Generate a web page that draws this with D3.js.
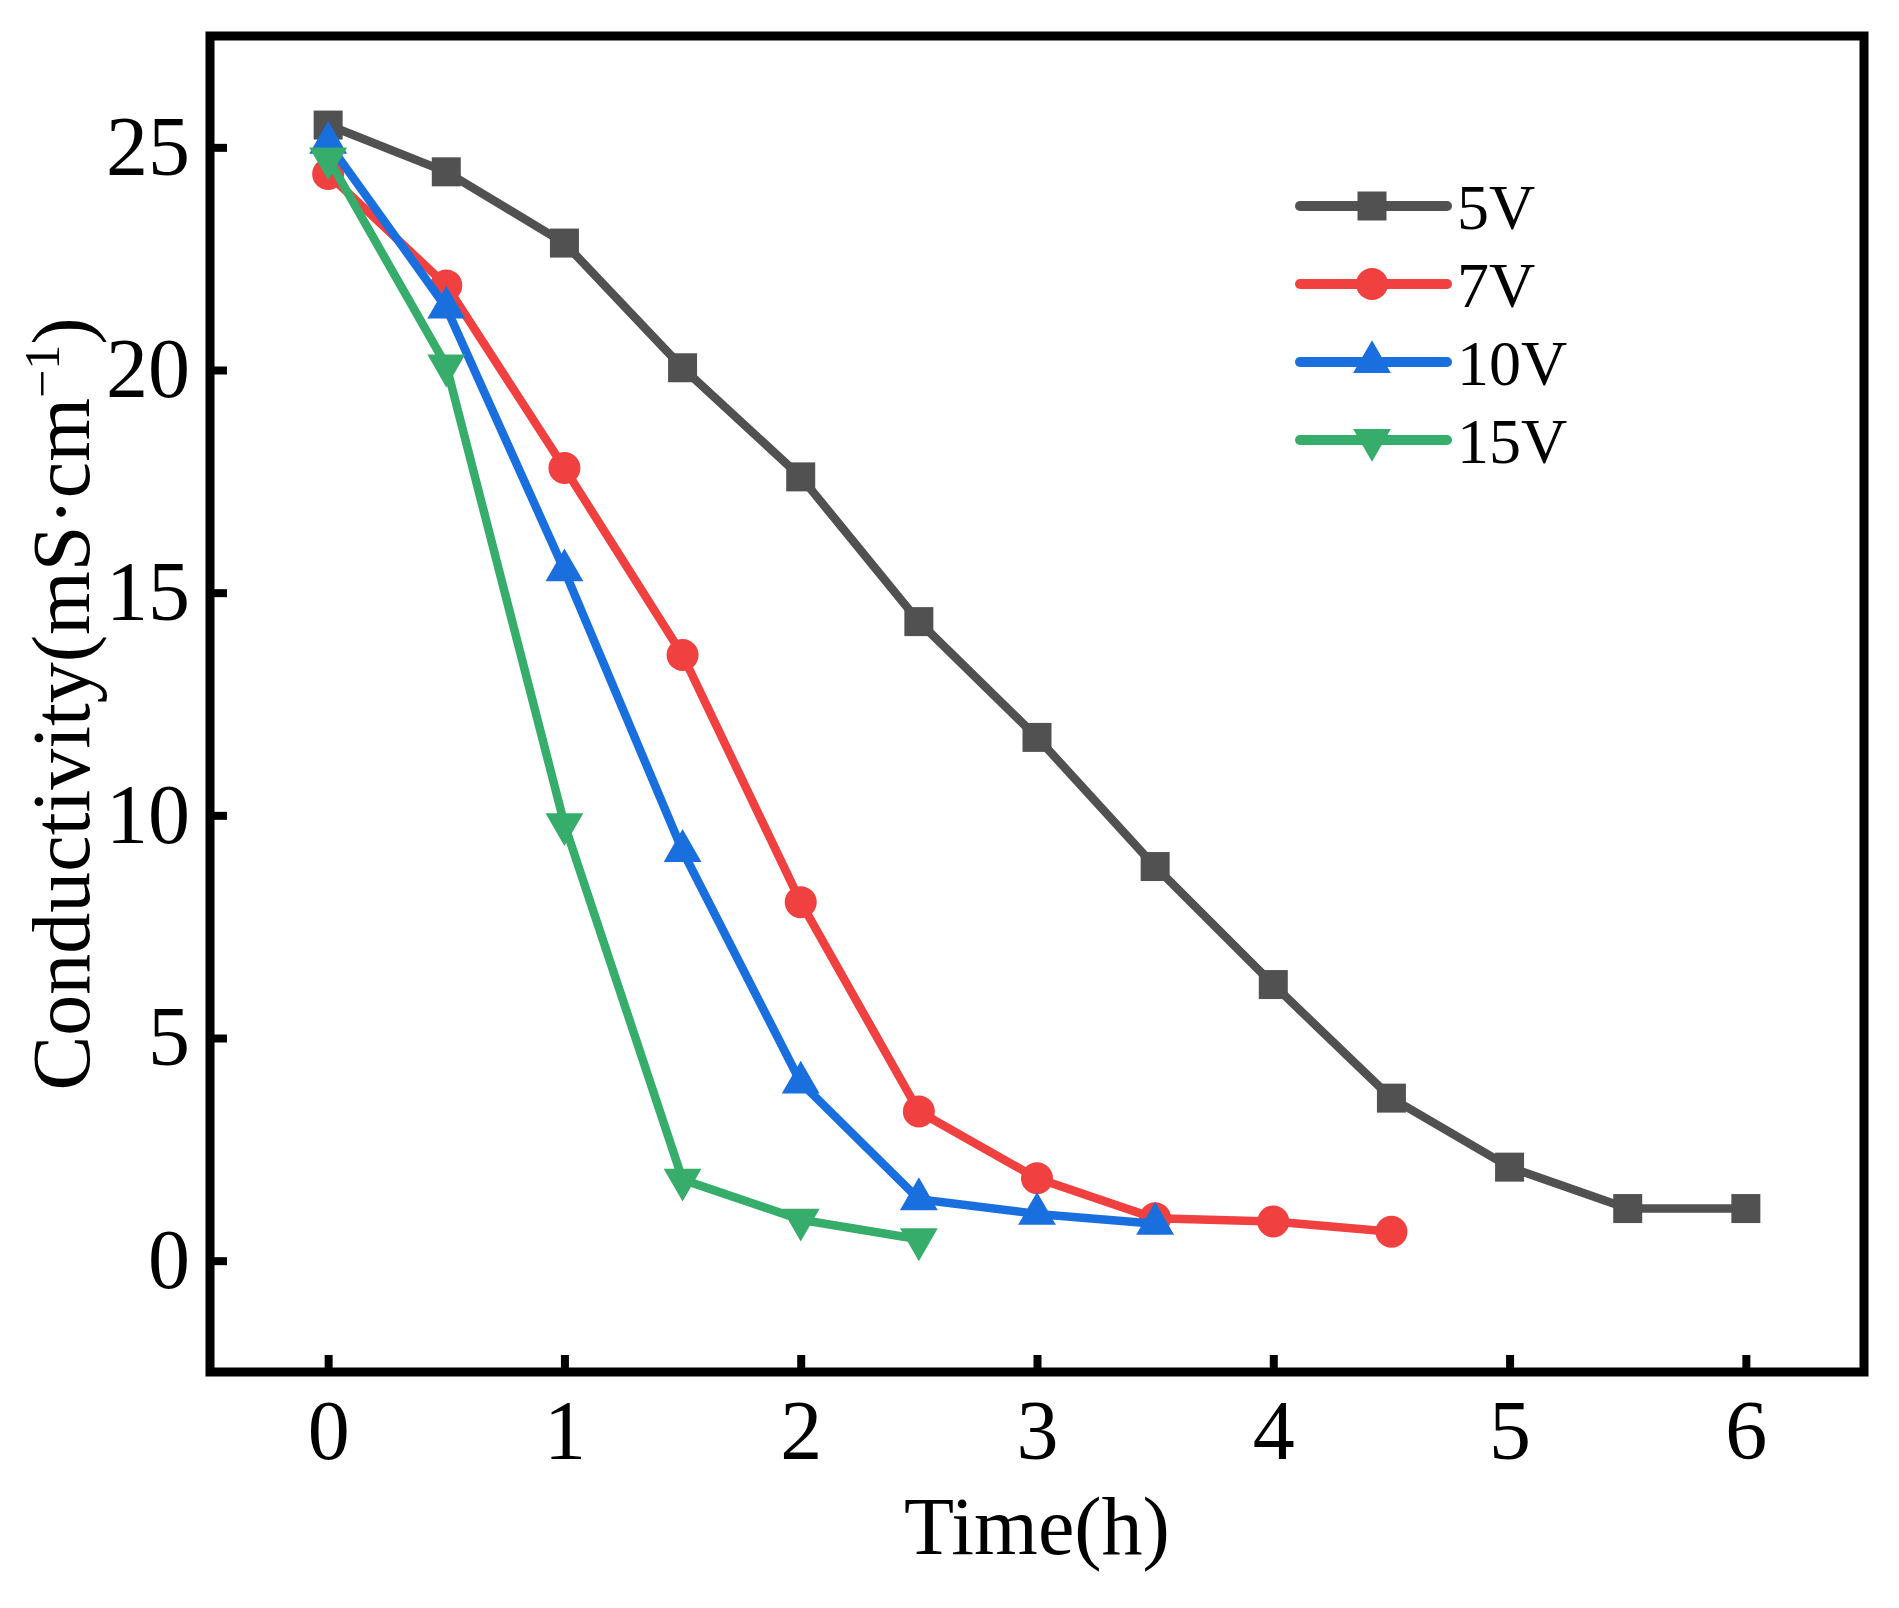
<!DOCTYPE html>
<meta charset="utf-8">
<script src="https://cdnjs.cloudflare.com/ajax/libs/d3/7.8.5/d3.min.js"></script>
<style>
  body { margin: 0; background: #fff; }
  svg { display: block; font-family: "Liberation Serif", "Times New Roman", serif; }
  .tick text { fill: #000; }
</style>
<body>
<script>

// data
var times = [0, 0.5, 1, 1.5, 2, 2.5, 3, 3.5, 4, 4.5, 5, 5.5, 6];
var v5  = [25.5, 24.45, 22.85, 20.05, 17.6, 14.35, 11.75, 8.85, 6.2, 3.65, 2.1, 1.17, 1.17];
var v7  = [24.4, 21.9, 17.8, 13.6, 8.05, 3.35, 1.85, 0.95, 0.88, 0.65];
var v10 = [25.1, 21.4, 15.5, 9.2, 4.0, 1.38, 1.05, 0.83];
var v15 = [24.75, 20.1, 9.8, 1.82, 0.92, 0.48];

var seriesNames = ["5V", "7V", "10V", "15V"];
var seriesValues = [v5, v7, v10, v15];
var xTicks = [0, 1, 2, 3, 4, 5, 6];
var yTicks = [0, 5, 10, 15, 20, 25];

var colors = ["#515151", "#F14040", "#1A6FDF", "#37AD6B"];
var symbols = [
  {type: d3.symbolSquare, size: 841, rot: 0},
  {type: d3.symbolCircle, size: 804, rot: 0},
  {type: d3.symbolTriangle, size: 620, rot: 0},
  {type: d3.symbolTriangle, size: 620, rot: 180}
];

var W = 1899, H = 1608;
var plotL = 210, plotR = 1864, plotT = 36, plotB = 1372;

var svg = d3.select("body").append("svg")
    .attr("width", W)
    .attr("height", H);

var x = d3.scaleLinear().domain([-0.5, 6.5]).range([plotL, plotR]);
var y = d3.scaleLinear().domain([-2.5, 27.5]).range([plotB, plotT]);

// axes, ticks pointing inward
var xAxis = d3.axisBottom(x).tickValues(xTicks).tickSize(-17).tickPadding(27).tickFormat(d3.format("d"));
var yAxis = d3.axisLeft(y).tickValues(yTicks).tickSize(-17).tickPadding(20).tickFormat(d3.format("d"));

var gx = svg.append("g")
    .attr("transform", "translate(0," + plotB + ")")
    .call(xAxis);
var gy = svg.append("g")
    .attr("transform", "translate(" + plotL + ",0)")
    .call(yAxis);

[gx, gy].forEach(function(g) {
  g.select(".domain").remove();
  g.selectAll(".tick line").attr("stroke", "#000").attr("stroke-width", 8);
  g.selectAll(".tick text").attr("font-size", 84).attr("font-family", "Liberation Serif, Times New Roman, serif");
});

// frame
svg.append("rect")
    .attr("x", plotL)
    .attr("y", plotT)
    .attr("width", plotR - plotL)
    .attr("height", plotB - plotT)
    .attr("fill", "none")
    .attr("stroke", "#000")
    .attr("stroke-width", 9);

// series
var line = d3.line()
    .x(function(d) { return x(d.t); })
    .y(function(d) { return y(d.v); });

seriesValues.forEach(function(vals, i) {
  var pts = vals.map(function(v, j) { return {t: times[j], v: v}; });
  var g = svg.append("g").attr("class", "series");

  g.append("path")
      .datum(pts)
      .attr("d", line)
      .attr("fill", "none")
      .attr("stroke", colors[i])
      .attr("stroke-width", 8.5)
      .attr("stroke-linejoin", "round");

  var sym = d3.symbol().type(symbols[i].type).size(symbols[i].size);
  g.selectAll("path.mark")
      .data(pts)
    .enter().append("path")
      .attr("class", "mark")
      .attr("d", sym)
      .attr("fill", colors[i])
      .attr("transform", function(d) {
        return "translate(" + x(d.t) + "," + y(d.v) + ") rotate(" + symbols[i].rot + ")";
      });
});

// legend
var legend = svg.append("g").attr("class", "legend");
seriesNames.forEach(function(name, i) {
  var ly = 206 + i * 78;
  legend.append("line")
      .attr("x1", 1300).attr("x2", 1447)
      .attr("y1", ly).attr("y2", ly)
      .attr("stroke", colors[i])
      .attr("stroke-width", 10)
      .attr("stroke-linecap", "round");
  legend.append("path")
      .attr("d", d3.symbol().type(symbols[i].type).size(symbols[i].size)())
      .attr("fill", colors[i])
      .attr("transform", "translate(1372," + ly + ") rotate(" + symbols[i].rot + ")");
  legend.append("text")
      .attr("x", 1457)
      .attr("y", ly + 23)
      .attr("font-size", 64)
      .text(name);
});

// axis titles
svg.append("text")
    .attr("x", x(3))
    .attr("y", 1554)
    .attr("text-anchor", "middle")
    .attr("font-size", 82)
    .text("Time(h)");

var yt = svg.append("text")
    .attr("text-anchor", "middle")
    .attr("font-size", 82)
    .attr("transform", "translate(89," + ((plotT + plotB) / 2) + ") rotate(-90)");
yt.append("tspan").text("Conductivity(mS\u00b7cm");
yt.append("tspan").attr("font-size", 50).attr("dy", -30).text("\u22121");
yt.append("tspan").attr("dy", 30).text(")");

</script>
</body>
